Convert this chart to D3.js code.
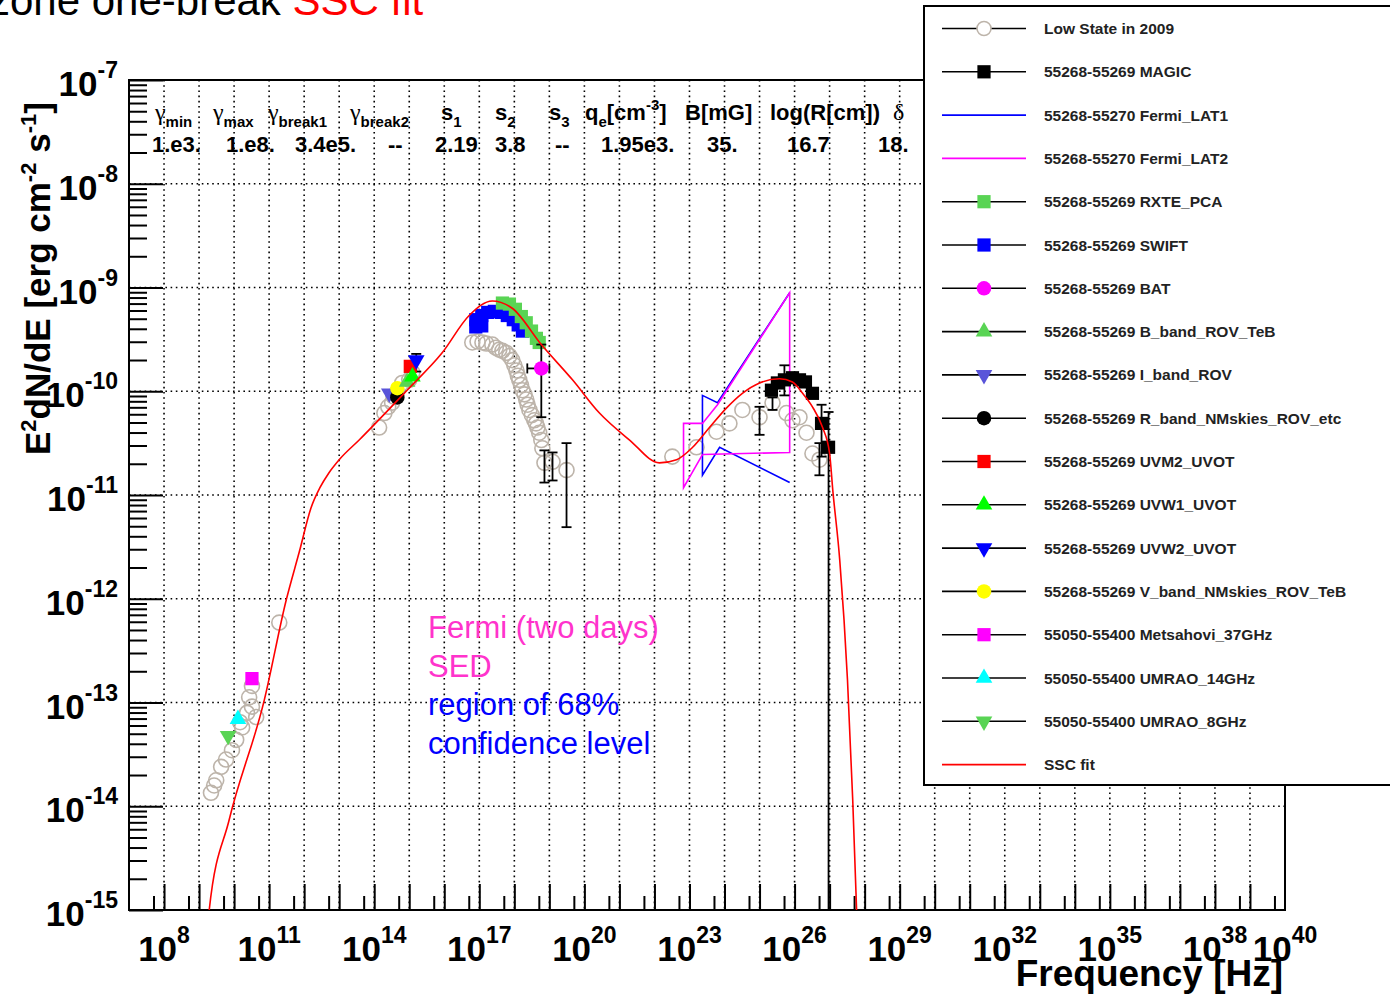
<!doctype html>
<html>
<head>
<meta charset="utf-8">
<title>One-zone one-break SSC fit</title>
<script src="https://d3js.org/d3.v7.min.js"></script>
<style>
  body { margin: 0; background: #fff; }
  svg text { font-family: "Liberation Sans", Arial, Helvetica, sans-serif; }
  .bold { font-weight: bold; }
</style>
</head>
<body>
<script>
// all values as [log10(nu/Hz), log10(E^2 dN/dE / erg cm^-2 s^-1)]
const lowState = [
  [9.34,-13.87],[9.43,-13.80],[9.49,-13.75],[9.63,-13.62],[9.77,-13.55],[9.94,-13.46],[10.06,-13.36],
  [10.17,-13.19],[10.23,-13.24],[10.37,-13.10],[10.43,-12.95],[10.51,-13.04],[10.51,-12.84],[10.63,-13.14],[11.29,-12.23],
  [14.14,-10.35],[14.29,-10.21],[14.40,-10.15],[14.51,-10.11],[14.55,-10.05],[14.63,-10.02],[14.80,-9.92],[15.00,-9.89],[15.09,-9.82],
  [16.80,-9.53],[16.95,-9.52],[17.09,-9.53],[17.20,-9.54],[17.37,-9.55],[17.47,-9.58],[17.57,-9.60],[17.66,-9.61],
  [17.77,-9.63],[17.86,-9.66],[17.94,-9.70],[18.00,-9.75],[18.06,-9.80],[18.10,-9.85],[18.14,-9.89],[18.19,-9.94],
  [18.23,-9.99],[18.29,-10.03],[18.34,-10.08],[18.38,-10.13],[18.43,-10.18],[18.50,-10.23],[18.57,-10.28],[18.62,-10.31],
  [18.66,-10.35],[18.71,-10.40],[18.77,-10.47],[18.80,-10.55],[18.86,-10.69],[19.09,-10.68],[19.49,-10.76],
  [22.51,-10.63],[23.20,-10.54],[23.77,-10.39],[24.14,-10.31],[24.51,-10.18],[25.00,-10.25],[25.37,-10.11],
  [25.77,-10.21],[25.94,-10.28],[26.14,-10.25],[26.34,-10.40],[26.51,-10.60],[26.71,-10.66]
];
// [log nu, log F low, log F high]
const lowStateErr = [[18.86,-10.88,-10.57],[19.09,-10.86,-10.59],[19.49,-11.31,-10.50],[25.00,-10.42,-10.15],[25.37,-10.18,-10.06],[26.71,-10.81,-10.50]];

const magic = [[25.34,-9.99],[25.51,-9.92],[25.71,-9.89],[25.94,-9.87],[26.14,-9.89],[26.31,-9.91],[26.51,-10.02],[26.77,-10.31],[26.97,-10.54]];
const magicErr = [[25.71,-10.04,-9.75],[26.77,-10.63,-10.13],[26.97,-15.3,-10.20]];

const fermiLat1 = [[25.86,-10.88],[23.86,-10.54],[23.37,-10.81],[23.37,-10.04],[23.80,-10.11],[25.86,-9.05]];
const fermiLat2 = [[23.37,-10.61],[22.83,-10.93],[22.83,-10.31],[23.37,-10.31],[23.80,-10.13],[25.86,-9.05],[25.86,-10.59],[23.37,-10.61]];

const rxte = [[17.66,-9.15],[17.86,-9.16],[18.03,-9.21],[18.20,-9.28],[18.34,-9.34],[18.49,-9.42],[18.63,-9.49],[18.71,-9.53]];
const swift = [[16.90,-9.31],[16.90,-9.38],[17.07,-9.27],[17.07,-9.37],[17.24,-9.24],[17.43,-9.23],[17.63,-9.24],[17.80,-9.27],[17.97,-9.31],[18.11,-9.36],[18.23,-9.42]];
const bat = [[18.77,-9.78]];
const batErr = [[18.37,19.00,-10.25,-9.55]]; // nu lo, nu hi, F lo, F hi
const bBand = [[14.94,-9.91]];
const iBand = [[14.43,-10.02]];
const rBand = [[14.66,-10.06]];
const uvm2 = [[15.03,-9.76]];
const uvw1 = [[15.09,-9.86]];
const uvw2 = [[15.20,-9.70]];
const uvotErr = [[15.20,-9.81,-9.64]];
const vBand = [[14.66,-9.97]];
const metsahovi = [[10.51,-12.77]];
const umrao14 = [[10.11,-13.16]];
const umrao8 = [[9.83,-13.32]];

const sscFit = [
  [9.20,-15.3],[9.29,-15.0],[9.86,-14.13],[10.86,-12.98],[11.49,-12.01],[11.86,-11.55],[12.20,-11.12],[12.45,-10.93],
  [12.70,-10.79],[13.00,-10.66],[13.57,-10.47],[14.94,-9.99],[15.94,-9.63],[16.71,-9.27],[17.37,-9.13],[17.94,-9.20],
  [18.77,-9.55],[19.66,-9.89],[20.43,-10.21],[21.29,-10.47],[22.14,-10.69],[22.63,-10.66],[23.09,-10.54],[23.57,-10.35],
  [24.06,-10.16],[24.51,-10.02],[25.00,-9.92],[25.57,-9.88],[25.94,-9.91],[26.23,-10.02],[26.51,-10.15],[26.80,-10.35],
  [27.00,-10.60],[27.09,-10.95],[27.29,-11.63],[27.51,-12.78],[27.66,-13.94],[27.77,-15.0],[27.80,-15.3]
];

const legendLabels = [
  "Low State in 2009", "55268-55269 MAGIC", "55268-55270 Fermi_LAT1", "55268-55270 Fermi_LAT2",
  "55268-55269 RXTE_PCA", "55268-55269 SWIFT", "55268-55269 BAT", "55268-55269 B_band_ROV_TeB",
  "55268-55269 I_band_ROV", "55268-55269 R_band_NMskies_ROV_etc", "55268-55269 UVM2_UVOT", "55268-55269 UVW1_UVOT",
  "55268-55269 UVW2_UVOT", "55268-55269 V_band_NMskies_ROV_TeB", "55050-55400 Metsahovi_37GHz", "55050-55400 UMRAO_14GHz",
  "55050-55400 UMRAO_8GHz", "SSC fit"
];

const paramHeads = [
  [["γ","g"],["min","sub"]], [["γ","g"],["max","sub"]], [["γ","g"],["break1","sub"]], [["γ","g"],["break2","sub"]],
  [["s",""],["1","sub"]], [["s",""],["2","sub"]], [["s",""],["3","sub"]],
  [["q",""],["e","sub"],["[cm",""],["-3","sup"],["]",""]], [["B[mG]",""]], [["log(R[cm])",""]], [["δ","g"]]
];
const paramValues = ["1.e3.", "1.e8.", "3.4e5.", "--", "2.19", "3.8", "--", "1.95e3.", "35.", "16.7", "18."];

const yExps = [-15, -14, -13, -12, -11, -10, -9, -8, -7];
const xLabelExps = [8, 11, 14, 17, 20, 23, 26, 29, 32, 35, 38, 40];

// ---- drawing ----
const w = 1390, h = 995;
const svg = d3.select("body").append("svg").attr("width", w).attr("height", h);

const x = d3.scaleLog().domain([1e7, 1e40]).range([129, 1285]);
const y = d3.scaleLog().domain([1e-15, 1e-7]).range([910, 80]);
const X = v => x(Math.pow(10, v));
const Y = v => y(Math.pow(10, v));

svg.append("defs").append("clipPath").attr("id", "plot")
  .append("rect").attr("x", 129).attr("y", 80).attr("width", 1156).attr("height", 830);

// dotted grid, one line per decade
const grid = svg.append("g").attr("stroke", "#000").attr("stroke-width", 1.6).attr("stroke-dasharray", "1.6 3.6");
grid.selectAll(".gx").data(d3.range(8, 40)).enter().append("line")
  .attr("x1", d => X(d)).attr("x2", d => X(d)).attr("y1", 80).attr("y2", 910);
grid.selectAll(".gy").data(d3.range(-14, -7)).enter().append("line")
  .attr("x1", 129).attr("x2", 1285).attr("y1", d => Y(d)).attr("y2", d => Y(d));

// left axis ticks (inside)
const yMinor = [];
for (let e = -15; e < -7; e++) for (let m = 2; m <= 9; m++) yMinor.push(m * Math.pow(10, e));
const yMajor = yExps.map(e => Math.pow(10, e));
svg.append("g").attr("transform", "translate(129,0)")
  .call(d3.axisLeft(y).tickValues(yMinor).tickSize(-18).tickFormat(""))
  .call(g => g.select(".domain").remove());
svg.append("g").attr("transform", "translate(129,0)")
  .call(d3.axisLeft(y).tickValues(yMajor).tickSize(-34).tickFormat(""))
  .call(g => g.select(".domain").remove());

// bottom axis ticks (inside)
svg.append("g").attr("transform", "translate(0,910)")
  .call(d3.axisBottom(x).tickValues(d3.range(8, 40).map(e => Math.pow(10, e))).tickSize(-26).tickFormat(""))
  .call(g => g.select(".domain").remove());
svg.append("g").attr("transform", "translate(0,910)")
  .call(d3.axisBottom(x).tickValues(d3.range(7, 40).map(e => 5 * Math.pow(10, e))).tickSize(-14).tickFormat(""))
  .call(g => g.select(".domain").remove());
svg.selectAll(".tick line").attr("stroke-width", 2);

// frame
svg.append("rect").attr("x", 129).attr("y", 80).attr("width", 1156).attr("height", 830)
  .attr("fill", "none").attr("stroke", "#000").attr("stroke-width", 2);

// tick labels
function powLabel(t, exp, big, small, up) {
  t.append("tspan").attr("font-size", big).text("10");
  t.append("tspan").attr("font-size", small).attr("dy", -up).text(exp);
}
yExps.forEach(e => {
  const t = svg.append("text").attr("class", "bold").attr("x", 118).attr("y", Y(e) + 16).attr("text-anchor", "end");
  powLabel(t, e, 35, 23, 18);
});
xLabelExps.forEach(e => {
  const t = svg.append("text").attr("class", "bold").attr("x", X(e)).attr("y", 961).attr("text-anchor", "middle");
  powLabel(t, e, 35, 23, 18);
});

// axis titles
svg.append("text").attr("class", "bold").attr("x", 1283).attr("y", 986).attr("text-anchor", "end")
  .attr("font-size", 37).text("Frequency [Hz]");
const yt = svg.append("text").attr("class", "bold").attr("font-size", 35)
  .attr("transform", "translate(50,455) rotate(-90)");
yt.append("tspan").text("E");
yt.append("tspan").attr("font-size", 22).attr("dy", -14).text("2");
yt.append("tspan").attr("dy", 14).text("dN/dE [erg cm");
yt.append("tspan").attr("font-size", 22).attr("dy", -14).text("-2");
yt.append("tspan").attr("dy", 14).text(" s");
yt.append("tspan").attr("font-size", 22).attr("dy", -14).text("-1");
yt.append("tspan").attr("dy", 14).text("]");

// title (cut at the top of the page)
const tt = svg.append("text").attr("x", -11).attr("y", 15).attr("font-size", 42);
tt.append("tspan").text("zone one-break ");
tt.append("tspan").attr("fill", "#ff0000").text("SSC fit");

// parameter table
const headX = [155, 213, 268, 350, 441, 495, 549, 585, 685, 770, 893];
const valX = [152, 226, 295, 388, 435, 495, 555, 601, 707, 787, 878];
paramHeads.forEach((parts, i) => {
  const t = svg.append("text").attr("x", headX[i]).attr("y", 120).attr("class", "bold").attr("font-size", 22);
  let shift = 0;
  parts.forEach(([s, mode]) => {
    const sp = t.append("tspan").text(s);
    let target = 0;
    if (mode === "sub") { sp.attr("font-size", 15); target = 7; }
    if (mode === "sup") { sp.attr("font-size", 15); target = -10; }
    if (mode === "g") sp.attr("font-family", "'Liberation Serif', 'DejaVu Serif', serif").attr("font-weight", "normal").attr("font-size", 24);
    sp.attr("dy", target - shift);
    shift = target;
  });
});
paramValues.forEach((v, i) => {
  svg.append("text").attr("x", valX[i]).attr("y", 152).attr("class", "bold").attr("font-size", 22).text(v);
});

// data
const plot = svg.append("g").attr("clip-path", "url(#plot)");
const lowCol = "#bdb4aa";
const green8 = "#59d454";

function errY(rows, color) {
  const g = plot.append("g").attr("stroke", color).attr("stroke-width", 1.8);
  rows.forEach(([nu, lo, hi]) => {
    g.append("line").attr("x1", X(nu)).attr("x2", X(nu)).attr("y1", Y(lo)).attr("y2", Y(hi));
    [lo, hi].forEach(v => g.append("line").attr("x1", X(nu) - 5).attr("x2", X(nu) + 5).attr("y1", Y(v)).attr("y2", Y(v)));
  });
}

const symPath = {
  square: d3.symbol(d3.symbolSquare, 175)(),
  circle: d3.symbol(d3.symbolCircle, 165)(),
  tri: d3.symbol(d3.symbolTriangle, 120)(),
  dtri: d3.symbol(d3.symbolTriangle, 120)()
};
function marks(rows, shape, color) {
  plot.append("g").selectAll("path").data(rows).enter().append("path")
    .attr("d", symPath[shape])
    .attr("transform", d => `translate(${X(d[0])},${Y(d[1])})` + (shape === "dtri" ? " rotate(180)" : ""))
    .attr("fill", color);
}

// low state
plot.append("g").selectAll("circle").data(lowState).enter().append("circle")
  .attr("cx", d => X(d[0])).attr("cy", d => Y(d[1])).attr("r", 7.5)
  .attr("fill", "none").attr("stroke", lowCol).attr("stroke-width", 1.6);
errY(lowStateErr, "#000");

// fermi bowties
const lineXY = d3.line().x(d => X(d[0])).y(d => Y(d[1]));
plot.append("path").attr("d", lineXY(fermiLat1)).attr("fill", "none").attr("stroke", "#0000ff").attr("stroke-width", 1.6);
plot.append("path").attr("d", lineXY(fermiLat2)).attr("fill", "none").attr("stroke", "#ff00ff").attr("stroke-width", 1.6);

// flare data
errY(magicErr, "#000");
marks(magic, "square", "#000");
marks(swift, "square", "#0000ff");
marks(rxte, "square", green8);
const be = plot.append("g").attr("stroke", "#000").attr("stroke-width", 1.8);
batErr.forEach(([n0, n1, f0, f1]) => {
  const cx = X(bat[0][0]), cy = Y(bat[0][1]);
  be.append("line").attr("x1", X(n0)).attr("x2", X(n1)).attr("y1", cy).attr("y2", cy);
  be.append("line").attr("x1", X(n0)).attr("x2", X(n0)).attr("y1", cy - 5).attr("y2", cy + 5);
  be.append("line").attr("x1", X(n1)).attr("x2", X(n1)).attr("y1", cy - 5).attr("y2", cy + 5);
  be.append("line").attr("x1", cx).attr("x2", cx).attr("y1", Y(f0)).attr("y2", Y(f1));
  [f0, f1].forEach(v => be.append("line").attr("x1", cx - 5).attr("x2", cx + 5).attr("y1", Y(v)).attr("y2", Y(v)));
});
marks(bat, "circle", "#ff00ff");
errY(uvotErr, "#000");
marks(iBand, "dtri", "#5954d9");
marks(rBand, "circle", "#000");
marks(vBand, "circle", "#ffff00");
marks(bBand, "tri", green8);
marks(uvm2, "square", "#ff0000");
marks(uvw1, "tri", "#00ff00");
marks(uvw2, "dtri", "#0000ff");
marks(umrao8, "dtri", green8);
marks(umrao14, "tri", "#00ffff");
marks(metsahovi, "square", "#ff00ff");

// SSC model curve
plot.append("path")
  .attr("d", d3.line().x(d => X(d[0])).y(d => Y(d[1])).curve(d3.curveMonotoneX)(sscFit))
  .attr("fill", "none").attr("stroke", "#ff0000").attr("stroke-width", 1.6);

// annotations
const ann = [["Fermi (two days)", "#ff33cc"], ["SED", "#ff33cc"], ["region of 68%", "#0000ff"], ["confidence level", "#0000ff"]];
ann.forEach(([s, c], i) => {
  svg.append("text").attr("x", 428).attr("y", 638 + i * 38.5).attr("font-size", 31).attr("fill", c).text(s);
});

// legend
const legendStyle = [
  {m: "open"}, {m: "square", c: "#000"}, {l: "#0000ff"}, {l: "#ff00ff"},
  {m: "square", c: green8}, {m: "square", c: "#0000ff"}, {m: "circle", c: "#ff00ff"}, {m: "tri", c: green8},
  {m: "dtri", c: "#5954d9"}, {m: "circle", c: "#000"}, {m: "square", c: "#ff0000"}, {m: "tri", c: "#00ff00"},
  {m: "dtri", c: "#0000ff"}, {m: "circle", c: "#ffff00"}, {m: "square", c: "#ff00ff"}, {m: "tri", c: "#00ffff"},
  {m: "dtri", c: green8}, {l: "#ff0000"}
];
const leg = svg.append("g");
leg.append("rect").attr("x", 924).attr("y", 6).attr("width", 480).attr("height", 779)
  .attr("fill", "#fff").attr("stroke", "#000").attr("stroke-width", 2);
legendLabels.forEach((lab, i) => {
  const cy = 28.5 + i * 43.3;
  const st = legendStyle[i];
  leg.append("line").attr("x1", 942).attr("x2", 1026).attr("y1", cy).attr("y2", cy)
    .attr("stroke", st.l || "#000").attr("stroke-width", 1.6);
  if (st.m === "open") {
    leg.append("circle").attr("cx", 984).attr("cy", cy).attr("r", 7).attr("fill", "#fff")
      .attr("stroke", lowCol).attr("stroke-width", 1.6);
  } else if (st.m) {
    leg.append("path").attr("d", symPath[st.m])
      .attr("transform", `translate(984,${cy})` + (st.m === "dtri" ? " rotate(180)" : ""))
      .attr("fill", st.c);
  }
  leg.append("text").attr("x", 1044).attr("y", cy + 5.5).attr("class", "bold").attr("font-size", 15.5)
    .attr("fill", "#222").text(lab);
});
</script>
</body>
</html>
